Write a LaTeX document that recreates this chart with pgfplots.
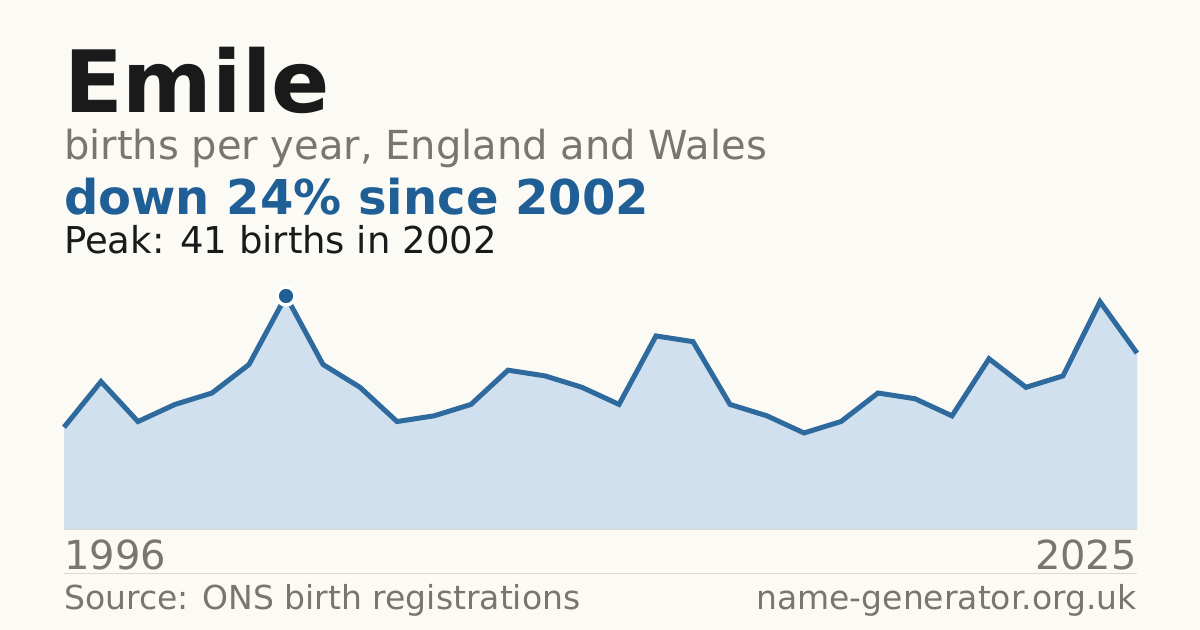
\documentclass[border=0pt]{standalone}
\usepackage{fontspec}
\setmainfont{DejaVu Sans}
\usepackage{pgfplots}
\pgfplotsset{compat=1.18}

\definecolor{bg}{HTML}{FBFAF5}
\definecolor{ink}{HTML}{1A1A1A}
\definecolor{muted}{HTML}{7A756E}
\definecolor{accent}{HTML}{1F5F96}
\definecolor{linec}{HTML}{2E6A9E}
\definecolor{areac}{HTML}{D0E0EF}
\definecolor{rule}{HTML}{DDDAD3}

\begin{document}
\begin{tikzpicture}[x=1bp,y=1bp]
\fill[bg] (0,0) rectangle (1200,630);
\useasboundingbox (0,0) rectangle (1200,630);

% header
\node[anchor=base west,inner sep=0,text=ink,font=\fontsize{86bp}{90bp}\selectfont\bfseries] at (64,517.3) {Emile};
\node[anchor=base west,inner sep=0,text=muted,font=\fontsize{40bp}{44bp}\selectfont] at (64,470.7) {births per year, England and Wales};
\node[anchor=base west,inner sep=0,text=accent,font=\fontsize{48bp}{52bp}\selectfont\bfseries] at (64,415) {down 24\% since 2002};
\node[anchor=base west,inner sep=0,text=ink,font=\fontsize{37bp}{40bp}\selectfont] at (64,376.7) {Peak: 41 births in 2002};

\begin{axis}[
    at={(64bp,100bp)}, anchor=south west,
    scale only axis,
    width=1073bp, height=234bp,
    xmin=1996, xmax=2025,
    ymin=0, ymax=41,
    axis lines=none,
    clip=false,
]
\addplot[draw=none, fill=areac] coordinates {
 (1996,18)(1997,26)(1998,19)(1999,22)(2000,24)(2001,29)(2002,41)(2003,29)
 (2004,25)(2005,19)(2006,20)(2007,22)(2008,28)(2009,27)(2010,25)(2011,22)
 (2012,34)(2013,33)(2014,22)(2015,20)(2016,17)(2017,19)(2018,24)(2019,23)
 (2020,20)(2021,30)(2022,25)(2023,27)(2024,40)(2025,31)
} \closedcycle;
\addplot[rule, line width=1bp] coordinates {(1996,0)(2025,0)};
\addplot[linec, line width=5bp, line join=miter] coordinates {
 (1996,18)(1997,26)(1998,19)(1999,22)(2000,24)(2001,29)(2002,41)(2003,29)
 (2004,25)(2005,19)(2006,20)(2007,22)(2008,28)(2009,27)(2010,25)(2011,22)
 (2012,34)(2013,33)(2014,22)(2015,20)(2016,17)(2017,19)(2018,24)(2019,23)
 (2020,20)(2021,30)(2022,25)(2023,27)(2024,40)(2025,31)
};
\addplot[only marks, mark=*, mark size=9bp,
    mark options={fill=accent, draw=white, line width=3.5bp}] coordinates {(2002,41)};
\end{axis}

% footer
\node[anchor=base west,inner sep=0,text=muted,font=\fontsize{40bp}{44bp}\selectfont] at (64,60.7) {1996};
\node[anchor=base east,inner sep=0,text=muted,font=\fontsize{40bp}{44bp}\selectfont] at (1137,60.7) {2025};
\draw[rule, line width=1bp] (64,56) -- (1137,56);
\node[anchor=base west,inner sep=0,text=muted,font=\fontsize{33bp}{36bp}\selectfont] at (64,20) {Source: ONS birth registrations};
\node[anchor=base east,inner sep=0,text=muted,font=\fontsize{33bp}{36bp}\selectfont] at (1137,20) {name-generator.org.uk};
\end{tikzpicture}
\end{document}
